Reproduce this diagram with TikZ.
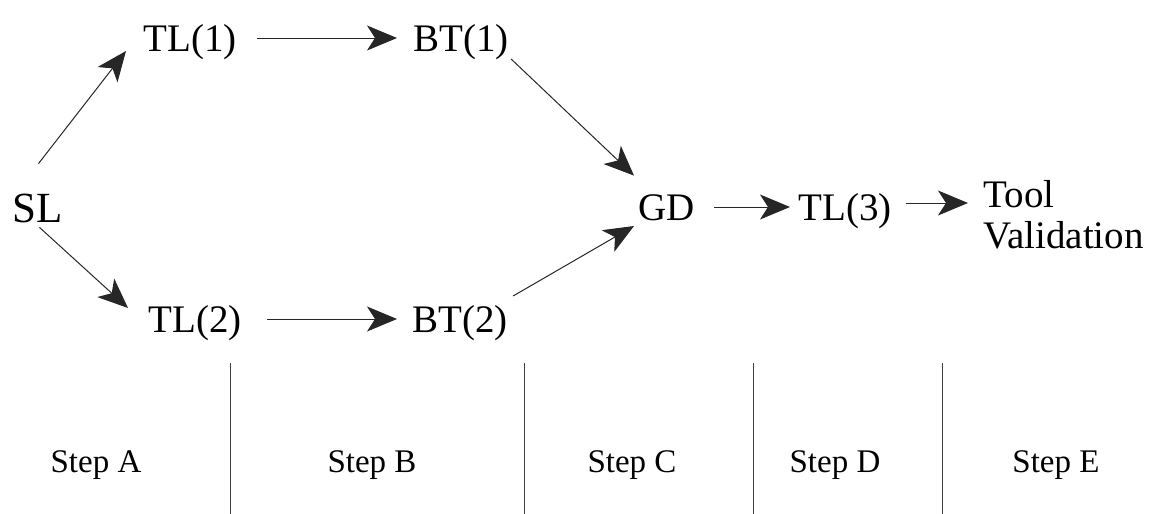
\documentclass[tikz,border=0pt]{standalone}
\usepackage{fontspec}
\setmainfont{Liberation Serif}
\usetikzlibrary{arrows.meta}
\begin{document}
\begin{tikzpicture}[x=0.5pt, y=-0.5pt, >={Stealth[length=15pt,width=12.5pt,inset=4pt]}]

    \tikzset{%
    stage/.style={
        anchor=base west,
        inner sep=0pt,
        text height=13pt,
        text depth=0pt,
        font=\fontsize{19.5}{20}\selectfont
        },
    stage text/.style={
        anchor=base west,
        inner sep=0pt,
        align=left,
        font=\fontsize{19.5}{20.5}\selectfont
        },
    flow/.style={
        ->,
        line width=0.5pt,
        draw=black!85
        },
    step label/.style={
        anchor=base,
        font=\fontsize{16.5}{18}\selectfont
        },
    }

    \useasboundingbox (0,0) rectangle (1162,514);

    % Stages of the tool route
    \node [stage, text height=14pt, font=\fontsize{21.5}{22}\selectfont] (SL) at (12,222) {SL};
    \node [stage] (TL1) at (143,51) {TL(1)};
    \node [stage] (BT1) at (413,51) {BT(1)};
    \node [stage] (TL2) at (148,332) {TL(2)};
    \node [stage] (BT2) at (412,332) {BT(2)};
    \node [stage] (GD) at (638,220) {GD};
    \node [stage] (TL3) at (798,220) {TL(3)};
    \node [stage text] (tool) at (983,248) {Tool\\Validation};

    % Arrows between the stages
    \draw [flow] ([shift={(1,-30)}]SL.north) -- ([shift={(-17,0)}]TL1.base west);
    \draw [flow] ([shift={(2,5)}]SL.south) -- ([shift={(-20,-24)}]TL2.base west);
    \draw [flow] ([shift={(20,0)}]TL1.east) -- ([shift={(-16,0)}]BT1.west);
    \draw [flow] ([shift={(25,0)}]TL2.east) -- ([shift={(-15,0)}]BT2.west);
    \draw [flow] ([shift={(2,8)}]BT1.base east) -- ([shift={(-4,-18)}]GD.north west);
    \draw [flow] ([shift={(5,-36)}]BT2.base east) -- ([shift={(-4,6)}]GD.base west);
    \draw [flow] ([shift={(19,0)}]GD.east) -- ([shift={(-8,0)}]TL3.west);
    \draw [flow] ([shift={(14,-4)}]TL3.east) -- ([shift={(-15,-45)}]tool.base west);

    % Step columns
    \foreach \x in {230,524,753,942}
    \draw [line width=0.5pt, black!75] (\x,363) -- (\x,514);

    \foreach \l/\x [count=\i] in {A/96,B/372,C/632,D/835,E/1056}
    \node [step label] (step-\l) at (\x,472) {Step \l};

\end{tikzpicture}
\end{document}
